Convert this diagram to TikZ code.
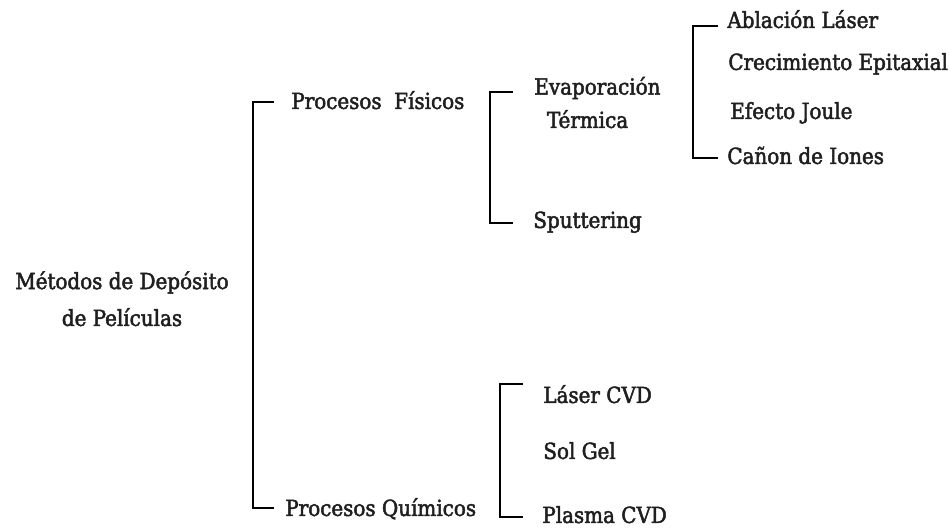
\documentclass[tikz,border=0pt]{standalone}
\usepackage{fontspec}
\setmainfont{DejaVu Serif Condensed}[FakeBold=2.2]
\usetikzlibrary{positioning}

\tikzset{
  rama/.style={anchor=west,inner sep=0pt,text height=1.6ex,text depth=.3ex,
    font=\fontsize{12.6}{15}\selectfont,text=black!88},
  corchete/.style={line width=1.6pt,line cap=rect}
}

\begin{document}
\begin{tikzpicture}[x=0.02cm,y=-0.02cm]
  \useasboundingbox (0,0) rectangle (950,529);

  % Raiz
  \node[rama,align=center,anchor=center] (raiz) at (122,320)
    {Métodos de Depósito\\[6pt]de Películas};

  % Primer nivel
  \node[rama] (fis) at (291,103) {Procesos\ \ Físicos};
  \node[rama] (qui) at (285,510) {Procesos Químicos};

  % Procesos fisicos
  \node[rama,align=left] (evap) at (534,122) {Evaporación\\[4pt]\ \ Térmica};
  \node[rama] (sput) at (533,222) {Sputtering};

  % Evaporacion termica
  \node[rama] (abl) at (727,22) {Ablación Láser};
  \node[rama] (crec) at (728,64) {Crecimiento Epitaxial};
  \node[rama] (joule) at (730,113) {Efecto Joule};
  \node[rama] (canon) at (727,158) {Cañon de Iones};

  % Procesos quimicos
  \node[rama] (lcvd) at (543,397) {Láser CVD};
  \node[rama] (sol) at (543,453) {Sol Gel};
  \node[rama] (pcvd) at (542,517) {Plasma CVD};

  % Corchetes
  \coordinate (b1a) at (273,102);
  \coordinate (b1b) at (273,508);
  \draw[corchete] (b1a) -- ++(-20,0) |- (b1b);

  \coordinate (b2a) at (512,92);
  \coordinate (b2b) at (512,223);
  \draw[corchete] (b2a) -- ++(-22,0) |- (b2b);

  \coordinate (b3a) at (717,26);
  \coordinate (b3b) at (717,158);
  \draw[corchete] (b3a) -- ++(-24,0) |- (b3b);

  \coordinate (b4a) at (522,384);
  \coordinate (b4b) at (522,517);
  \draw[corchete] (b4a) -- ++(-22,0) |- (b4b);
\end{tikzpicture}
\end{document}
